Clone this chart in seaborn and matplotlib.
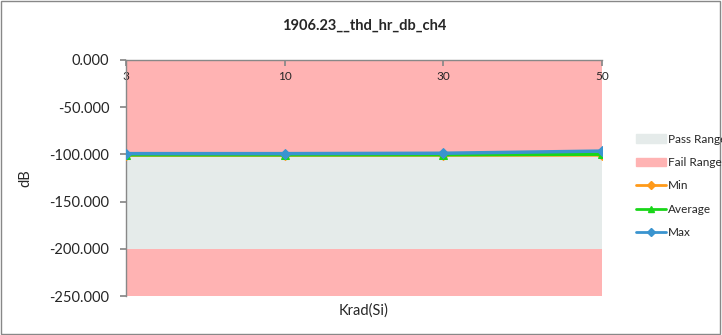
import numpy as np
import pandas as pd
import matplotlib
matplotlib.use("Agg")
import matplotlib.pyplot as plt
import seaborn as sns
from matplotlib.patches import Patch, Rectangle
from matplotlib.lines import Line2D

# data
krad = ["3", "10", "30", "50"]
min_vals = [-100.8, -100.8, -100.7, -100.6]
avg_vals = [-100.4, -100.4, -100.3, -99.8]
max_vals = [-99.2, -99.2, -98.8, -96.5]
pass_lo, pass_hi = -200, -100
y_min, y_max = -250, 0

sns.set_theme(style="white")
plt.rcParams["font.family"] = ["Lato", "DejaVu Sans"]

fig = plt.figure(figsize=(7.22, 3.35), dpi=100)
ax = fig.add_axes([0.1745, 0.1164, 0.6593, 0.7046])

pos = np.arange(len(krad))
df = pd.DataFrame({"x": pos, "Min": min_vals, "Average": avg_vals, "Max": max_vals})

# ranges
ax.axhspan(pass_hi, y_max, color="#FFB3B3", lw=0, zorder=0)
ax.axhspan(pass_lo, pass_hi, color="#E5EBEA", lw=0, zorder=0)
ax.axhspan(y_min, pass_lo, color="#FFB3B3", lw=0, zorder=0)

c_min, c_avg, c_max = "#FF9A1A", "#19D619", "#3A94CF"
sns.lineplot(data=df, x="x", y="Min", ax=ax, color=c_min, marker="D", markersize=5,
             markeredgecolor=c_min, lw=2.5, zorder=3)
sns.lineplot(data=df, x="x", y="Average", ax=ax, color=c_avg, marker="^", markersize=6,
             markeredgecolor=c_avg, lw=2.5, zorder=4)
sns.lineplot(data=df, x="x", y="Max", ax=ax, color=c_max, marker="D", markersize=5,
             markeredgecolor=c_max, lw=2.5, zorder=5)

ax.set_xlim(pos[0], pos[-1])
ax.set_ylim(y_min, y_max)
ax.set_yticks(np.arange(y_min, y_max + 1, 50))
ax.yaxis.set_major_formatter(matplotlib.ticker.FormatStrFormatter("%.3f"))
ax.tick_params(axis="y", labelsize=10.5, length=4, color="#888888", direction="out", left=True, pad=8)

ax.set_xticks(pos)
ax.set_xticklabels(krad)
ax.xaxis.set_ticks_position("top")
ax.tick_params(axis="x", labelsize=8.5, length=4, color="#888888", direction="in",
               pad=-16, top=True)

for s in ["right", "bottom"]:
    ax.spines[s].set_visible(False)
for s in ["left", "top"]:
    ax.spines[s].set_color("#888888")
    ax.spines[s].set_linewidth(1)

ax.set_xlabel("Krad(Si)", fontsize=10.5, labelpad=5)
ax.set_ylabel("dB", fontsize=10.5, labelpad=12)
ax.set_title("1906.23__thd_hr_db_ch4", fontsize=10.5, fontweight="bold", pad=22)

handles = [
    Patch(color="#E5EBEA", label="Pass Range"),
    Patch(color="#FFB3B3", label="Fail Range"),
    Line2D([0], [0], color=c_min, marker="D", markersize=4, lw=2, label="Min"),
    Line2D([0], [0], color=c_avg, marker="^", markersize=5, lw=2, label="Average"),
    Line2D([0], [0], color=c_max, marker="D", markersize=4, lw=2, label="Max"),
]
fig.legend(handles=handles, loc="upper left", bbox_to_anchor=(0.874, 0.615),
           frameon=False, fontsize=8.5, handlelength=2.6, labelspacing=1.05,
           handletextpad=0.15, borderaxespad=0)

fig.patches.append(Rectangle((0.002, 0.003), 0.995, 0.994, transform=fig.transFigure,
                             fill=False, edgecolor="#888888", lw=1))

fig.savefig("out.png", dpi=100)
